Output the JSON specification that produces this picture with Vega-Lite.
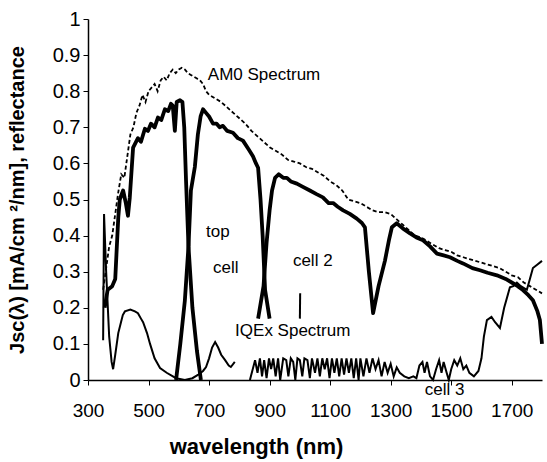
{
  "$schema": "https://vega.github.io/schema/vega-lite/v6.json",
  "width": 454,
  "height": 361,
  "autosize": {"type": "none"},
  "padding": {"left": 88, "top": 19, "right": 5, "bottom": 82},
  "config": {
    "view": {"stroke": null},
    "font": "Liberation Sans",
    "axis": {"grid": false, "domainColor": "black", "domainWidth": 1.5, "tickColor": "black", "tickSize": 5, "labelColor": "black", "titleColor": "black", "labelFont": "Liberation Sans", "titleFont": "Liberation Sans", "labelFontSize": 19, "labelFontWeight": "normal", "titleFontWeight": "bold", "labelOverlap": false}
  },
  "datasets": {
    "am0": [
      {"nm": 350, "v": 0.25}, {"nm": 360, "v": 0.31}, {"nm": 370, "v": 0.37}, {"nm": 380, "v": 0.40}, {"nm": 390, "v": 0.46},
      {"nm": 400, "v": 0.52}, {"nm": 410, "v": 0.57}, {"nm": 420, "v": 0.56}, {"nm": 430, "v": 0.62}, {"nm": 440, "v": 0.68},
      {"nm": 450, "v": 0.70}, {"nm": 460, "v": 0.74}, {"nm": 470, "v": 0.76}, {"nm": 480, "v": 0.79}, {"nm": 490, "v": 0.77},
      {"nm": 500, "v": 0.80}, {"nm": 510, "v": 0.81}, {"nm": 520, "v": 0.82}, {"nm": 530, "v": 0.80}, {"nm": 540, "v": 0.83},
      {"nm": 550, "v": 0.84}, {"nm": 560, "v": 0.83}, {"nm": 570, "v": 0.85}, {"nm": 580, "v": 0.86}, {"nm": 590, "v": 0.85},
      {"nm": 600, "v": 0.86}, {"nm": 610, "v": 0.865}, {"nm": 620, "v": 0.86}, {"nm": 630, "v": 0.85}, {"nm": 640, "v": 0.845},
      {"nm": 650, "v": 0.84}, {"nm": 660, "v": 0.835}, {"nm": 670, "v": 0.83}, {"nm": 680, "v": 0.82}, {"nm": 690, "v": 0.80},
      {"nm": 700, "v": 0.79}, {"nm": 720, "v": 0.78}, {"nm": 740, "v": 0.77}, {"nm": 760, "v": 0.755}, {"nm": 780, "v": 0.74},
      {"nm": 800, "v": 0.725}, {"nm": 820, "v": 0.71}, {"nm": 840, "v": 0.69}, {"nm": 860, "v": 0.675}, {"nm": 880, "v": 0.66},
      {"nm": 900, "v": 0.645}, {"nm": 920, "v": 0.635}, {"nm": 940, "v": 0.625}, {"nm": 960, "v": 0.61}, {"nm": 980, "v": 0.605},
      {"nm": 1000, "v": 0.60}, {"nm": 1020, "v": 0.59}, {"nm": 1040, "v": 0.585}, {"nm": 1060, "v": 0.575}, {"nm": 1080, "v": 0.565},
      {"nm": 1100, "v": 0.55}, {"nm": 1120, "v": 0.54}, {"nm": 1140, "v": 0.525}, {"nm": 1160, "v": 0.50}, {"nm": 1180, "v": 0.495},
      {"nm": 1200, "v": 0.49}, {"nm": 1220, "v": 0.48}, {"nm": 1240, "v": 0.47}, {"nm": 1260, "v": 0.465}, {"nm": 1280, "v": 0.465},
      {"nm": 1300, "v": 0.46}, {"nm": 1320, "v": 0.445}, {"nm": 1340, "v": 0.43}, {"nm": 1360, "v": 0.415}, {"nm": 1380, "v": 0.40},
      {"nm": 1400, "v": 0.395}, {"nm": 1420, "v": 0.385}, {"nm": 1440, "v": 0.375}, {"nm": 1460, "v": 0.365}, {"nm": 1480, "v": 0.36},
      {"nm": 1500, "v": 0.355}, {"nm": 1520, "v": 0.345}, {"nm": 1540, "v": 0.34}, {"nm": 1560, "v": 0.335}, {"nm": 1580, "v": 0.33},
      {"nm": 1600, "v": 0.325}, {"nm": 1620, "v": 0.32}, {"nm": 1640, "v": 0.315}, {"nm": 1660, "v": 0.31}, {"nm": 1680, "v": 0.30},
      {"nm": 1700, "v": 0.29}, {"nm": 1720, "v": 0.285}, {"nm": 1740, "v": 0.27}, {"nm": 1760, "v": 0.26}, {"nm": 1780, "v": 0.25},
      {"nm": 1800, "v": 0.24}
    ],
    "jsc": [
      {"seg": "top", "nm": 355, "v": 0.20}, {"seg": "top", "nm": 365, "v": 0.25}, {"seg": "top", "nm": 380, "v": 0.26}, {"seg": "top", "nm": 390, "v": 0.28},
      {"seg": "top", "nm": 400, "v": 0.45}, {"seg": "top", "nm": 405, "v": 0.50}, {"seg": "top", "nm": 416, "v": 0.525}, {"seg": "top", "nm": 425, "v": 0.49},
      {"seg": "top", "nm": 432, "v": 0.455}, {"seg": "top", "nm": 438, "v": 0.505}, {"seg": "top", "nm": 449, "v": 0.644}, {"seg": "top", "nm": 465, "v": 0.67},
      {"seg": "top", "nm": 475, "v": 0.66}, {"seg": "top", "nm": 488, "v": 0.696}, {"seg": "top", "nm": 498, "v": 0.69}, {"seg": "top", "nm": 508, "v": 0.71},
      {"seg": "top", "nm": 520, "v": 0.70}, {"seg": "top", "nm": 531, "v": 0.727}, {"seg": "top", "nm": 542, "v": 0.72}, {"seg": "top", "nm": 554, "v": 0.75},
      {"seg": "top", "nm": 565, "v": 0.745}, {"seg": "top", "nm": 574, "v": 0.765}, {"seg": "top", "nm": 580, "v": 0.76}, {"seg": "top", "nm": 587, "v": 0.69},
      {"seg": "top", "nm": 593, "v": 0.77}, {"seg": "top", "nm": 604, "v": 0.775}, {"seg": "top", "nm": 612, "v": 0.77}, {"seg": "top", "nm": 618, "v": 0.70},
      {"seg": "top", "nm": 624, "v": 0.55}, {"seg": "top", "nm": 632, "v": 0.37}, {"seg": "top", "nm": 645, "v": 0.20}, {"seg": "top", "nm": 660, "v": 0.08},
      {"seg": "top", "nm": 673, "v": 0.0},
      {"seg": "c2", "nm": 591, "v": 0.0}, {"seg": "c2", "nm": 605, "v": 0.10}, {"seg": "c2", "nm": 620, "v": 0.22}, {"seg": "c2", "nm": 632, "v": 0.37},
      {"seg": "c2", "nm": 640, "v": 0.525}, {"seg": "c2", "nm": 653, "v": 0.59}, {"seg": "c2", "nm": 663, "v": 0.68}, {"seg": "c2", "nm": 672, "v": 0.73},
      {"seg": "c2", "nm": 680, "v": 0.75}, {"seg": "c2", "nm": 690, "v": 0.74}, {"seg": "c2", "nm": 700, "v": 0.73}, {"seg": "c2", "nm": 713, "v": 0.71},
      {"seg": "c2", "nm": 725, "v": 0.71}, {"seg": "c2", "nm": 735, "v": 0.70}, {"seg": "c2", "nm": 746, "v": 0.704}, {"seg": "c2", "nm": 760, "v": 0.69},
      {"seg": "c2", "nm": 779, "v": 0.685}, {"seg": "c2", "nm": 795, "v": 0.67}, {"seg": "c2", "nm": 812, "v": 0.663}, {"seg": "c2", "nm": 830, "v": 0.64},
      {"seg": "c2", "nm": 845, "v": 0.62}, {"seg": "c2", "nm": 855, "v": 0.60}, {"seg": "c2", "nm": 862, "v": 0.588}, {"seg": "c2", "nm": 870, "v": 0.50},
      {"seg": "c2", "nm": 877, "v": 0.40}, {"seg": "c2", "nm": 885, "v": 0.25}, {"seg": "c2", "nm": 900, "v": 0.17},
      {"seg": "c3", "nm": 862, "v": 0.17}, {"seg": "c3", "nm": 880, "v": 0.26}, {"seg": "c3", "nm": 890, "v": 0.38}, {"seg": "c3", "nm": 900, "v": 0.47},
      {"seg": "c3", "nm": 908, "v": 0.525}, {"seg": "c3", "nm": 918, "v": 0.56}, {"seg": "c3", "nm": 930, "v": 0.57}, {"seg": "c3", "nm": 945, "v": 0.56},
      {"seg": "c3", "nm": 957, "v": 0.56}, {"seg": "c3", "nm": 970, "v": 0.55}, {"seg": "c3", "nm": 990, "v": 0.544}, {"seg": "c3", "nm": 1010, "v": 0.535},
      {"seg": "c3", "nm": 1033, "v": 0.525}, {"seg": "c3", "nm": 1055, "v": 0.515}, {"seg": "c3", "nm": 1076, "v": 0.506}, {"seg": "c3", "nm": 1095, "v": 0.49},
      {"seg": "c3", "nm": 1110, "v": 0.49}, {"seg": "c3", "nm": 1125, "v": 0.48}, {"seg": "c3", "nm": 1143, "v": 0.47}, {"seg": "c3", "nm": 1165, "v": 0.46},
      {"seg": "c3", "nm": 1188, "v": 0.447}, {"seg": "c3", "nm": 1205, "v": 0.435}, {"seg": "c3", "nm": 1215, "v": 0.423}, {"seg": "c3", "nm": 1228, "v": 0.30},
      {"seg": "c3", "nm": 1242, "v": 0.185}, {"seg": "c3", "nm": 1260, "v": 0.26}, {"seg": "c3", "nm": 1281, "v": 0.33}, {"seg": "c3", "nm": 1295, "v": 0.39},
      {"seg": "c3", "nm": 1304, "v": 0.423}, {"seg": "c3", "nm": 1320, "v": 0.434}, {"seg": "c3", "nm": 1340, "v": 0.42}, {"seg": "c3", "nm": 1364, "v": 0.406},
      {"seg": "c3", "nm": 1385, "v": 0.395}, {"seg": "c3", "nm": 1407, "v": 0.387}, {"seg": "c3", "nm": 1430, "v": 0.37}, {"seg": "c3", "nm": 1453, "v": 0.35},
      {"seg": "c3", "nm": 1475, "v": 0.345}, {"seg": "c3", "nm": 1496, "v": 0.34}, {"seg": "c3", "nm": 1520, "v": 0.33}, {"seg": "c3", "nm": 1539, "v": 0.323},
      {"seg": "c3", "nm": 1570, "v": 0.31}, {"seg": "c3", "nm": 1595, "v": 0.304}, {"seg": "c3", "nm": 1620, "v": 0.297}, {"seg": "c3", "nm": 1651, "v": 0.29},
      {"seg": "c3", "nm": 1680, "v": 0.28}, {"seg": "c3", "nm": 1704, "v": 0.268}, {"seg": "c3", "nm": 1720, "v": 0.26}, {"seg": "c3", "nm": 1737, "v": 0.249},
      {"seg": "c3", "nm": 1755, "v": 0.235}, {"seg": "c3", "nm": 1770, "v": 0.221}, {"seg": "c3", "nm": 1785, "v": 0.19}, {"seg": "c3", "nm": 1793, "v": 0.166},
      {"seg": "c3", "nm": 1800, "v": 0.10}
    ],
    "iqe": [
      {"seg": "a", "nm": 350, "v": 0.11}, {"seg": "a", "nm": 353, "v": 0.46}, {"seg": "a", "nm": 360, "v": 0.30}, {"seg": "a", "nm": 370, "v": 0.12},
      {"seg": "a", "nm": 378, "v": 0.05}, {"seg": "a", "nm": 383, "v": 0.03}, {"seg": "a", "nm": 390, "v": 0.07}, {"seg": "a", "nm": 400, "v": 0.13},
      {"seg": "a", "nm": 409, "v": 0.16}, {"seg": "a", "nm": 415, "v": 0.18}, {"seg": "a", "nm": 422, "v": 0.19}, {"seg": "a", "nm": 440, "v": 0.195},
      {"seg": "a", "nm": 455, "v": 0.19}, {"seg": "a", "nm": 465, "v": 0.185}, {"seg": "a", "nm": 475, "v": 0.17}, {"seg": "a", "nm": 482, "v": 0.16},
      {"seg": "a", "nm": 495, "v": 0.13}, {"seg": "a", "nm": 505, "v": 0.10}, {"seg": "a", "nm": 520, "v": 0.06}, {"seg": "a", "nm": 538, "v": 0.033},
      {"seg": "a", "nm": 560, "v": 0.02}, {"seg": "a", "nm": 591, "v": 0.005}, {"seg": "a", "nm": 620, "v": 0.0}, {"seg": "a", "nm": 645, "v": 0.005},
      {"seg": "a", "nm": 663, "v": 0.014}, {"seg": "a", "nm": 680, "v": 0.025}, {"seg": "a", "nm": 690, "v": 0.036}, {"seg": "a", "nm": 700, "v": 0.06},
      {"seg": "a", "nm": 710, "v": 0.09}, {"seg": "a", "nm": 720, "v": 0.105}, {"seg": "a", "nm": 730, "v": 0.09}, {"seg": "a", "nm": 740, "v": 0.07},
      {"seg": "a", "nm": 753, "v": 0.055}, {"seg": "a", "nm": 765, "v": 0.04}, {"seg": "a", "nm": 772, "v": 0.036}, {"seg": "a", "nm": 785, "v": 0.05},
      {"seg": "b", "nm": 835, "v": 0.0}, {"seg": "b", "nm": 852, "v": 0.055}, {"seg": "b", "nm": 860, "v": 0.02}, {"seg": "b", "nm": 868, "v": 0.06},
      {"seg": "b", "nm": 875, "v": 0.01}, {"seg": "b", "nm": 882, "v": 0.055}, {"seg": "b", "nm": 890, "v": 0.005}, {"seg": "b", "nm": 898, "v": 0.06},
      {"seg": "b", "nm": 905, "v": 0.03}, {"seg": "b", "nm": 912, "v": 0.06}, {"seg": "b", "nm": 920, "v": 0.01}, {"seg": "b", "nm": 928, "v": 0.06},
      {"seg": "b", "nm": 935, "v": 0.0}, {"seg": "b", "nm": 945, "v": 0.06}, {"seg": "b", "nm": 955, "v": 0.055}, {"seg": "b", "nm": 962, "v": 0.01},
      {"seg": "b", "nm": 970, "v": 0.06}, {"seg": "b", "nm": 978, "v": 0.05}, {"seg": "b", "nm": 985, "v": 0.0}, {"seg": "b", "nm": 992, "v": 0.06},
      {"seg": "b", "nm": 1000, "v": 0.055}, {"seg": "b", "nm": 1008, "v": 0.01}, {"seg": "b", "nm": 1015, "v": 0.06}, {"seg": "b", "nm": 1025, "v": 0.055},
      {"seg": "b", "nm": 1033, "v": 0.005}, {"seg": "b", "nm": 1040, "v": 0.06}, {"seg": "b", "nm": 1050, "v": 0.02}, {"seg": "b", "nm": 1058, "v": 0.06},
      {"seg": "b", "nm": 1066, "v": 0.01}, {"seg": "b", "nm": 1074, "v": 0.06}, {"seg": "b", "nm": 1082, "v": 0.03}, {"seg": "b", "nm": 1090, "v": 0.06},
      {"seg": "b", "nm": 1098, "v": 0.005}, {"seg": "b", "nm": 1106, "v": 0.06}, {"seg": "b", "nm": 1114, "v": 0.02}, {"seg": "b", "nm": 1122, "v": 0.06},
      {"seg": "b", "nm": 1130, "v": 0.01}, {"seg": "b", "nm": 1138, "v": 0.06}, {"seg": "b", "nm": 1146, "v": 0.015}, {"seg": "b", "nm": 1154, "v": 0.06},
      {"seg": "b", "nm": 1162, "v": 0.02}, {"seg": "b", "nm": 1170, "v": 0.06}, {"seg": "b", "nm": 1178, "v": 0.005}, {"seg": "b", "nm": 1186, "v": 0.06},
      {"seg": "b", "nm": 1194, "v": 0.0}, {"seg": "b", "nm": 1200, "v": 0.06}, {"seg": "b", "nm": 1210, "v": 0.01}, {"seg": "b", "nm": 1220, "v": 0.06},
      {"seg": "b", "nm": 1230, "v": 0.02}, {"seg": "b", "nm": 1240, "v": 0.06}, {"seg": "b", "nm": 1250, "v": 0.03}, {"seg": "b", "nm": 1260, "v": 0.055},
      {"seg": "b", "nm": 1270, "v": 0.01}, {"seg": "b", "nm": 1280, "v": 0.05}, {"seg": "b", "nm": 1290, "v": 0.02}, {"seg": "b", "nm": 1300, "v": 0.045},
      {"seg": "b", "nm": 1310, "v": 0.01}, {"seg": "b", "nm": 1320, "v": 0.035}, {"seg": "b", "nm": 1330, "v": 0.02}, {"seg": "b", "nm": 1345, "v": 0.01},
      {"seg": "b", "nm": 1360, "v": 0.005}, {"seg": "b", "nm": 1375, "v": 0.01}, {"seg": "b", "nm": 1385, "v": 0.005}, {"seg": "b", "nm": 1395, "v": 0.04},
      {"seg": "b", "nm": 1405, "v": 0.05}, {"seg": "b", "nm": 1412, "v": 0.02}, {"seg": "b", "nm": 1420, "v": 0.05}, {"seg": "b", "nm": 1430, "v": 0.01},
      {"seg": "b", "nm": 1440, "v": 0.0}, {"seg": "b", "nm": 1450, "v": 0.03}, {"seg": "b", "nm": 1460, "v": 0.055}, {"seg": "b", "nm": 1468, "v": 0.02},
      {"seg": "b", "nm": 1475, "v": 0.05}, {"seg": "b", "nm": 1485, "v": 0.02}, {"seg": "b", "nm": 1492, "v": 0.0}, {"seg": "b", "nm": 1500, "v": 0.03},
      {"seg": "b", "nm": 1510, "v": 0.055}, {"seg": "b", "nm": 1520, "v": 0.04}, {"seg": "b", "nm": 1530, "v": 0.06}, {"seg": "b", "nm": 1540, "v": 0.03},
      {"seg": "b", "nm": 1550, "v": 0.04}, {"seg": "b", "nm": 1560, "v": 0.02}, {"seg": "b", "nm": 1575, "v": 0.01}, {"seg": "b", "nm": 1590, "v": 0.025},
      {"seg": "b", "nm": 1600, "v": 0.06}, {"seg": "b", "nm": 1608, "v": 0.12}, {"seg": "b", "nm": 1618, "v": 0.166}, {"seg": "b", "nm": 1633, "v": 0.175},
      {"seg": "b", "nm": 1645, "v": 0.16}, {"seg": "b", "nm": 1661, "v": 0.144}, {"seg": "b", "nm": 1675, "v": 0.20}, {"seg": "b", "nm": 1694, "v": 0.257},
      {"seg": "b", "nm": 1705, "v": 0.26}, {"seg": "b", "nm": 1717, "v": 0.27}, {"seg": "b", "nm": 1730, "v": 0.26}, {"seg": "b", "nm": 1750, "v": 0.25},
      {"seg": "b", "nm": 1760, "v": 0.28}, {"seg": "b", "nm": 1770, "v": 0.31}, {"seg": "b", "nm": 1785, "v": 0.32}, {"seg": "b", "nm": 1800, "v": 0.33},
      {"seg": "c", "nm": 1000, "v": 0.17}, {"seg": "c", "nm": 1001, "v": 0.24}
    ],
    "labels": [
      {"t": "AM0 Spectrum", "nm": 696, "v": 0.845},
      {"t": "top", "nm": 690, "v": 0.41},
      {"t": "cell", "nm": 713, "v": 0.31},
      {"t": "cell 2", "nm": 977, "v": 0.33},
      {"t": "IQEx Spectrum", "nm": 786, "v": 0.135},
      {"t": "cell 3", "nm": 1413, "v": -0.028}
    ]
  },
  "layer": [
    {
      "data": {"name": "am0"},
      "mark": {"type": "line", "color": "black", "strokeWidth": 1.8, "strokeDash": [4, 2.5]},
      "encoding": {
        "x": {"field": "nm", "type": "quantitative", "scale": {"domain": [300, 1800], "nice": false, "zero": false},
              "axis": {"values": [300, 500, 700, 900, 1100, 1300, 1500, 1700], "format": "d", "title": "wavelength (nm)", "titleFontSize": 22, "titleX": 168, "titleY": 56, "titleBaseline": "top", "labelPadding": 16, "labelFlush": false, "labelOverlap": false}},
        "y": {"field": "v", "type": "quantitative", "scale": {"domain": [0, 1], "nice": false},
              "axis": {"values": [0, 0.1, 0.2, 0.3, 0.4, 0.5, 0.6, 0.7, 0.8, 0.9, 1], "tickCount": 11, "format": ".1~f", "title": "Jsc(λ) [mA/cm ²/nm], reflectance", "titleFontSize": 20, "labelFontSize": 20, "labelPadding": 3, "titlePadding": 25, "labelFlush": false, "labelOverlap": false, "labelBound": false}}
      }
    },
    {
      "data": {"name": "jsc"},
      "mark": {"type": "line", "color": "black", "strokeWidth": 3.8, "strokeJoin": "round"},
      "encoding": {
        "x": {"field": "nm", "type": "quantitative", "axis": {"values": [300, 500, 700, 900, 1100, 1300, 1500, 1700], "format": "d", "title": "wavelength (nm)", "titleFontSize": 22, "titleX": 168, "titleY": 56, "titleBaseline": "top", "labelPadding": 16, "labelFlush": false, "labelOverlap": false}},
        "y": {"field": "v", "type": "quantitative", "axis": {"values": [0, 0.1, 0.2, 0.3, 0.4, 0.5, 0.6, 0.7, 0.8, 0.9, 1], "tickCount": 11, "format": ".1~f", "title": "Jsc(λ) [mA/cm ²/nm], reflectance", "titleFontSize": 20, "labelFontSize": 20, "labelPadding": 3, "titlePadding": 25, "labelFlush": false, "labelOverlap": false, "labelBound": false}},
        "detail": {"field": "seg"}
      }
    },
    {
      "data": {"name": "iqe"},
      "mark": {"type": "line", "color": "black", "strokeWidth": 2},
      "encoding": {
        "x": {"field": "nm", "type": "quantitative", "axis": {"values": [300, 500, 700, 900, 1100, 1300, 1500, 1700], "format": "d", "title": "wavelength (nm)", "titleFontSize": 22, "titleX": 168, "titleY": 56, "titleBaseline": "top", "labelPadding": 16, "labelFlush": false, "labelOverlap": false}},
        "y": {"field": "v", "type": "quantitative", "axis": {"values": [0, 0.1, 0.2, 0.3, 0.4, 0.5, 0.6, 0.7, 0.8, 0.9, 1], "tickCount": 11, "format": ".1~f", "title": "Jsc(λ) [mA/cm ²/nm], reflectance", "titleFontSize": 20, "labelFontSize": 20, "labelPadding": 3, "titlePadding": 25, "labelFlush": false, "labelOverlap": false, "labelBound": false}},
        "detail": {"field": "seg"}
      }
    },
    {
      "mark": {"type": "rule", "color": "black", "strokeWidth": 1.5},
      "encoding": {"y": {"datum": 1, "axis": {"values": [0, 0.1, 0.2, 0.3, 0.4, 0.5, 0.6, 0.7, 0.8, 0.9, 1], "tickCount": 11, "format": ".1~f", "title": "Jsc(λ) [mA/cm ²/nm], reflectance", "titleFontSize": 20, "labelFontSize": 20, "labelPadding": 3, "titlePadding": 25, "labelFlush": false, "labelOverlap": false, "labelBound": false}}}
    },
    {
      "mark": {"type": "rule", "color": "black", "strokeWidth": 2, "strokeDash": [1, 1.5]},
      "encoding": {"x": {"datum": 1800, "axis": {"values": [300, 500, 700, 900, 1100, 1300, 1500, 1700], "format": "d", "title": "wavelength (nm)", "titleFontSize": 22, "titleX": 168, "titleY": 56, "titleBaseline": "top", "labelPadding": 16, "labelFlush": false, "labelOverlap": false}}}
    },
    {
      "data": {"name": "labels"},
      "mark": {"type": "text", "align": "left", "baseline": "middle", "fontSize": 17, "color": "black", "font": "Liberation Sans"},
      "encoding": {
        "x": {"field": "nm", "type": "quantitative", "axis": {"values": [300, 500, 700, 900, 1100, 1300, 1500, 1700], "format": "d", "title": "wavelength (nm)", "titleFontSize": 22, "titleX": 168, "titleY": 56, "titleBaseline": "top", "labelPadding": 16, "labelFlush": false, "labelOverlap": false}},
        "y": {"field": "v", "type": "quantitative", "axis": {"values": [0, 0.1, 0.2, 0.3, 0.4, 0.5, 0.6, 0.7, 0.8, 0.9, 1], "tickCount": 11, "format": ".1~f", "title": "Jsc(λ) [mA/cm ²/nm], reflectance", "titleFontSize": 20, "labelFontSize": 20, "labelPadding": 3, "titlePadding": 25, "labelFlush": false, "labelOverlap": false, "labelBound": false}},
        "text": {"field": "t"}
      }
    }
  ]
}
